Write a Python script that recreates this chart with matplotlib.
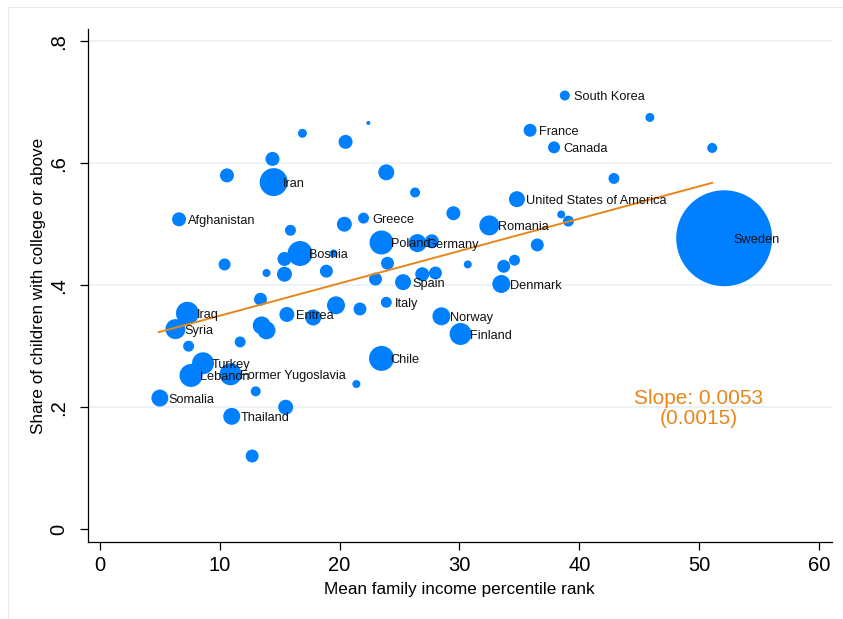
import matplotlib
matplotlib.use("Agg")
import matplotlib.pyplot as plt
from matplotlib.patches import Rectangle

plt.rcParams["font.family"] = ["Liberation Sans", "DejaVu Sans"]

# country of origin: mean parental income rank vs share of children with college
countries = [
    "South Korea", "", "France", "Canada", "", "", "United States of America", "", "",
    "Sweden", "Romania", "", "", "", "Denmark", "", "", "", "Germany", "Poland",
    "", "", "Spain", "", "", "Italy", "Norway", "Finland", "Chile", "Greece",
    "", "", "", "", "", "", "Iran", "", "Afghanistan", "", "", "Bosnia",
    "", "", "", "", "", "", "", "", "", "Iraq", "Syria", "Eritrea",
    "", "", "", "", "", "Turkey", "Lebanon", "Former Yugoslavia", "", "",
    "Somalia", "Thailand", "", "",
]
income_rank = [
    38.8, 45.9, 35.9, 37.9, 51.1, 42.9, 34.8, 38.5, 39.1,
    52.1, 32.5, 36.5, 34.6, 33.7, 33.5, 30.7, 29.5, 27.7, 26.5, 23.5,
    28.0, 26.9, 25.3, 23.0, 24.0, 23.9, 28.5, 30.1, 23.5, 22.0,
    22.4, 23.9, 26.3, 16.9, 20.5, 14.4, 14.5, 10.6, 6.6, 15.9, 20.4, 16.7,
    15.4, 19.5, 10.4, 13.9, 15.4, 18.9, 13.4, 19.7, 21.7, 7.3, 6.3, 15.6,
    17.8, 13.5, 13.9, 7.4, 11.7, 8.6, 7.6, 10.9, 13.0, 21.4,
    5.0, 11.0, 15.5, 12.7,
]
college_share = [
    0.711, 0.675, 0.654, 0.626, 0.625, 0.575, 0.541, 0.516, 0.505,
    0.477, 0.498, 0.466, 0.441, 0.431, 0.402, 0.434, 0.518, 0.472, 0.469, 0.470,
    0.420, 0.418, 0.405, 0.410, 0.436, 0.372, 0.349, 0.320, 0.280, 0.510,
    0.666, 0.585, 0.552, 0.649, 0.635, 0.607, 0.569, 0.580, 0.508, 0.490, 0.500, 0.452,
    0.443, 0.452, 0.434, 0.420, 0.418, 0.423, 0.377, 0.367, 0.361, 0.354, 0.328, 0.352,
    0.347, 0.334, 0.326, 0.300, 0.307, 0.272, 0.252, 0.254, 0.226, 0.238,
    0.215, 0.185, 0.200, 0.120,
]
# number of children per country (relative weights)
n_children = [
    25, 20, 42, 36, 25, 30, 64, 16, 30,
    2304, 100, 42, 30, 42, 81, 16, 49, 49, 81, 144,
    42, 49, 64, 42, 42, 30, 81, 121, 156, 30,
    4, 64, 25, 20, 49, 49, 196, 49, 49, 30, 56, 156,
    49, 16, 36, 16, 56, 42, 42, 81, 42, 132, 100, 56,
    64, 81, 81, 30, 30, 121, 132, 121, 25, 16,
    72, 72, 56, 42,
]

slope = 0.0053
slope_se = 0.0015
intercept = 0.297
fit_range = [4.9, 51.1]

blue = "#0080ff"
orange = "#e8861a"

fig = plt.figure(figsize=(8.43, 6.19), dpi=100)
ax = fig.add_axes([87.5 / 843, 1 - 542 / 619, (832 - 87.5) / 843, (542 - 29) / 619])

# faint outer frame
fig.patches.append(Rectangle((8 / 843, -0.1), 1.2, 1 - 7 / 619 + 0.1, transform=fig.transFigure,
                             fill=False, edgecolor="#e6ebf0", linewidth=0.8))

for yv in [0.2, 0.4, 0.6, 0.8]:
    ax.axhline(yv, color="#eaf0f5", linewidth=1.2, zorder=0)

ax.scatter(income_rank, college_share, s=[w * 2.07 for w in n_children],
           color=blue, linewidths=0, zorder=2)

ax.plot(fit_range, [intercept + slope * v for v in fit_range], color=orange, linewidth=1.4, zorder=3)

for name, xv, yv in zip(countries, income_rank, college_share):
    if name:
        ax.annotate(name, (xv, yv), xytext=(6.5, -1.2), textcoords="offset points",
                    ha="left", va="center", fontsize=9.2, color="#111111", zorder=4)

ax.text(50.0, 0.198, f"Slope: {slope:.4f}\n({slope_se:.4f})", color=orange, fontsize=15,
        ha="center", va="center", linespacing=1.05, zorder=4)

ax.set_xlim(-1.04, 61.1)
ax.set_ylim(-0.021, 0.82)
ax.set_xticks([0, 10, 20, 30, 40, 50, 60])
ax.set_yticks([0, 0.2, 0.4, 0.6, 0.8])
ax.set_yticklabels(["0", ".2", ".4", ".6", ".8"], rotation=90, va="center")
ax.tick_params(axis="both", direction="out", length=6, width=0.9, labelsize=14.5, pad=4)
ax.tick_params(axis="y", pad=8)

for side in ["top", "right"]:
    ax.spines[side].set_visible(False)
for side in ["left", "bottom"]:
    ax.spines[side].set_linewidth(0.9)

ax.set_xlabel("Mean family income percentile rank", fontsize=12.3, labelpad=5)
ax.set_ylabel("Share of children with college or above", fontsize=12.3, labelpad=2)

fig.savefig("out.png", dpi=100)
